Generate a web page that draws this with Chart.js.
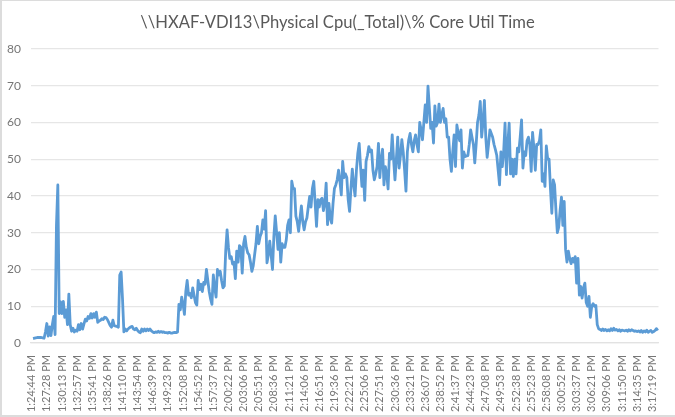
<!DOCTYPE html>
<html>
<head>
<meta charset="utf-8">
<script src="https://cdn.jsdelivr.net/npm/chart.js@4"></script>
<style>
  html, body { margin: 0; padding: 0; background: #fff; }
  #frame { position: absolute; left: 0; top: 0; width: 675px; height: 417px; box-sizing: border-box;
           border-left: 2px solid #dcdcdc; border-top: 1px solid #dcdcdc; border-bottom: 2px solid #dcdcdc; }
  #box { position: absolute; left: 0; top: 0; width: 675px; height: 417px; }
</style>
</head>
<body>
<div id="frame"></div>
<div id="box"><canvas id="chart"></canvas></div>
<script>
const chartTitle = '\\\\HXAF-VDI13\\Physical Cpu(_Total)\\% Core Util Time';

// one label every 11 samples
const tickLabels = [
  '1:24:44 PM','1:27:28 PM','1:30:13 PM','1:32:57 PM','1:35:41 PM','1:38:26 PM','1:41:10 PM',
  '1:43:54 PM','1:46:39 PM','1:49:23 PM','1:52:08 PM','1:54:52 PM','1:57:37 PM','2:00:22 PM',
  '2:03:06 PM','2:05:51 PM','2:08:36 PM','2:11:21 PM','2:14:06 PM','2:16:51 PM','2:19:36 PM',
  '2:22:21 PM','2:25:06 PM','2:27:51 PM','2:30:36 PM','2:33:21 PM','2:36:07 PM','2:38:52 PM',
  '2:41:37 PM','2:44:23 PM','2:47:08 PM','2:49:53 PM','2:52:38 PM','2:55:23 PM','2:58:08 PM',
  '3:00:52 PM','3:03:37 PM','3:06:21 PM','3:09:06 PM','3:11:50 PM','3:14:35 PM','3:17:19 PM'
];
const labelEvery = 11;

// % core util (the line starts just after the first tick)
const coreUtil = [
  null,
  1.2,1.3,1.4,1.5,1.5,1.5,1.5,1.4,1.3,3,5.3,
  1.9,4.4,2,5,7.2,2.3,32,43,8,11.2,8,
  11.3,7,9,5,13.3,5,3.2,4,3,3.5,3.2,
  5,3.6,5.3,3.8,5.2,6.5,6,7.2,6.7,8,6.8,
  8,7,8.4,5.6,6,6.2,6.6,6.4,7,6.9,6.4,
  5.6,4.8,4.3,6.2,4.7,4.6,4.5,4.3,18.5,19.3,12,
  3,3.8,3.3,3.8,4.1,4.4,4.5,3.8,3.6,4,3.4,
  3,2.8,3.8,3.2,3.8,3.3,3.8,3.4,3.8,3.3,3,
  2.8,3,2.9,3.2,2.9,3.1,2.9,3,2.8,2.8,2.7,
  2.9,2.7,2.7,2.8,2.9,2.8,3,10.5,9,12.5,10.5,
  7.8,14,17,13,13.5,12.3,15,13,11,10.3,17,
  14.5,16,14,16.5,16,20,17,14,12,10.5,18.5,
  15,12.5,20,18.5,19.5,17,15,15.5,25,30.8,26,
  23,23.5,21.5,22,17.5,25,22,26.5,26,19,27,
  29,26,24.5,24,22,19.5,21,24,27,31.7,27,
  29,30,33.5,31,36,21.8,24,27.7,24,20,29,
  34.6,30,25.5,30,22,27,26,26,28,32,33.5,
  30,44,42,42,34.5,33,30.4,34,37.3,33,30.8,
  33,34,37,39.9,37,42,44,38,31.7,39,37,
  39,39.4,36,38,43.5,32.2,38,34,32.6,38,42,
  43,44.4,47,44,40.3,49.4,45,46,45,39,35.8,
  42,47.3,43,40,47,51.6,54.3,48,42.6,47,38.8,
  49.4,51,53.4,52,52.5,47,44.4,46,48,54.3,45,
  50,52.7,43,48,46,41.9,51.6,50,56.6,50,44.4,
  50,56,47.6,51,55.3,52,47,41.3,52,55.3,57,
  54,52,55,56.6,54,52,60,58,55.3,60,64.8,
  60,69.9,64,58.4,60,54.4,64.5,59,60,65,60,
  62,63.8,60,61,56,56,50,46.7,52,56.6,48,
  59.3,57,55,58,47.6,52,50.7,50.9,51,54,58,
  56,54,49,54,60,62,65.7,56,60,66,56,
  50.5,54,58,57,56,54,52.6,51,47,43,52,
  48,52,59.8,45.8,54,59.8,46,50,45.3,50,46,
  53,52,56,60.7,47.6,52,51,55,56,54,46.7,
  57.3,53,47,54,54,55,58,44,46,42.6,53.6,
  50,50,42,35.3,44.4,43,36,30,31.5,36,39.7,
  32,38.5,25.4,22,25,23,21.6,23,22,23.5,16.3,
  23,13,15.4,12.2,15,16.3,11,10,12.7,7,10,
  10.7,10,10.2,5,3.9,3.7,3.4,3.8,3.4,3.7,3.3,
  3.6,3.3,3.9,3.4,4,3.5,3.7,3.3,3.6,3.2,3.5,
  3.4,3.3,3.5,3.2,3.6,3.3,3.6,3.4,3.2,3.3,3.1,
  3.3,3,3.4,2.9,3.3,3,3.5,2.9,3.2,3.4,2.9,
  3.1,3.4,3.9,3.4
];

const yMax = 80;
const yStep = 10;

const categories = coreUtil.map((v, i) => i % labelEvery === 0 ? tickLabels[i / labelEvery] : '');

new Chart(document.getElementById('chart'), {
  type: 'line',
  data: {
    labels: categories,
    datasets: [{
      data: coreUtil,
      borderColor: '#5B9BD5',
      borderWidth: 2.8,
      borderJoinStyle: 'round',
      pointRadius: 0,
      tension: 0
    }]
  },
  options: {
    responsive: true,
    maintainAspectRatio: false,
    animation: false,
    plugins: {
      legend: { display: false },
      tooltip: { enabled: false },
      title: {
        display: true,
        text: chartTitle,
        color: '#595959',
        font: { family: 'Lato', size: 16.6, weight: 'normal' },
        padding: { top: 13, bottom: 16 }
      }
    },
    scales: {
      x: {
        offset: true,
        afterFit: scale => { scale.height = 74; },
        grid: { display: false },
        border: { color: '#e2e2e2', width: 1.3 },
        ticks: {
          autoSkip: false,
          minRotation: 90,
          maxRotation: 90,
          padding: 4,
          color: '#767676',
          font: { family: 'Lato', size: 11 },
          callback: function (value) { return this.getLabelForValue(value); }
        }
      },
      y: {
        min: 0,
        max: yMax,
        afterFit: scale => { scale.width = 31; },
        grid: { color: '#e6e6e6', lineWidth: 1.3, drawTicks: false },
        border: { display: false },
        ticks: {
          stepSize: yStep,
          padding: 10,
          color: '#767676',
          font: { family: 'Lato', size: 12 }
        }
      },
      // empty axis, only keeps the right margin without moving the title
      rightGap: {
        position: 'right',
        afterFit: scale => { scale.width = 15; },
        grid: { display: false },
        border: { display: false },
        ticks: { display: false }
      }
    }
  }
});
</script>
</body>
</html>
